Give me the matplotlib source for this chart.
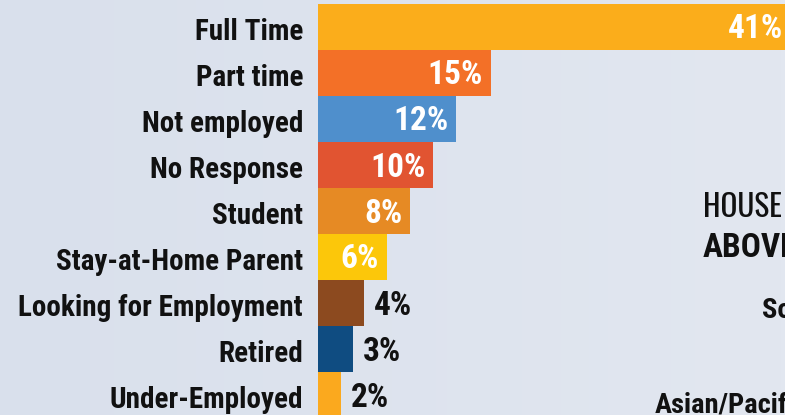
import matplotlib
matplotlib.use("Agg")
import matplotlib.pyplot as plt
import numpy as np

categories = ["Full Time", "Part time", "Not employed", "No Response", "Student",
              "Stay-at-Home Parent", "Looking for Employment", "Retired", "Under-Employed"]
values = [41, 15, 12, 10, 8, 6, 4, 3, 2]
value_labels = ["41%", "15%", "12%", "10%", "8%", "6%", "4%", "3%", "2%"]
colors = ["#FBAD1B", "#F37027", "#4F8FCC", "#E15431", "#E68A24",
          "#FCC70A", "#8C4A1F", "#0F4C81", "#FBA91E"]
inside = [True, True, True, True, True, True, False, False, False]

W, H = 785, 415
fig = plt.figure(figsize=(W / 100, H / 100), dpi=100)
fig.patch.set_facecolor("#DCE3EE")

# subtle background gradient
bg = fig.add_axes([0, 0, 1, 1], zorder=-10)
gx = np.linspace(0, 1, 200)
gy = np.linspace(0, 1, 100)
X, Y = np.meshgrid(gx, gy)
grad = 0.5 + 0.5 * X
bg.imshow(grad, extent=[0, 1, 0, 1], aspect="auto", origin="lower",
          cmap=matplotlib.colors.LinearSegmentedColormap.from_list("b", ["#D9E0EC", "#E2E7F0"]))
bg.set_axis_off()

FONT = ["Roboto Condensed", "DejaVu Sans"]
NARROW = ["Oswald", "Roboto Condensed", "DejaVu Sans"]
TXT = "#111111"

px_per_unit = 11.53
x0 = 318
top = 4
pitch = 46
n = len(categories)
ax_w = (W - x0) / W
ax_h = n * pitch / H
ax_b = (H - top - n * pitch) / H
ax = fig.add_axes([x0 / W, ax_b, ax_w, ax_h])
ax.set_facecolor("none")
ax.set_xlim(0, (W - x0) / px_per_unit)
ax.set_ylim(n - 0.5, -0.5)
y = np.arange(n)
ax.barh(y, values, height=1.0, color=colors, edgecolor="none")
for s in ax.spines.values():
    s.set_visible(False)
ax.set_xticks([])
ax.set_yticks([])

for i, cat in enumerate(categories):
    ax.annotate(cat, xy=(0, i), xytext=(-15, -12.5), textcoords="offset pixels",
                ha="right", va="baseline", fontsize=21, fontweight="bold",
                family=FONT, color=TXT, annotation_clip=False)

for i, (v, lab) in enumerate(zip(values, value_labels)):
    if inside[i]:
        ax.annotate(lab, xy=(v, i), xytext=(-8, -11.5), textcoords="offset pixels",
                    ha="right", va="baseline", color="white", fontsize=24,
                    fontweight="bold", family=FONT, annotation_clip=False)
    else:
        ax.annotate(lab, xy=(v, i), xytext=(10, -11.5), textcoords="offset pixels",
                    ha="left", va="baseline", color=TXT, fontsize=24,
                    fontweight="bold", family=FONT, annotation_clip=False)

# partially visible text from the surrounding infographic
fig.text(703 / W, 1 - 217 / H, "HOUSE", fontsize=22.5, fontweight="light", family=NARROW, color=TXT, va="baseline")
fig.text(703 / W, 1 - 257 / H, "ABOVE", fontsize=24, fontweight="bold", family=FONT, color=TXT, va="baseline")
fig.text(762 / W, 1 - 318 / H, "So", fontsize=20.5, fontweight="bold", family=FONT, color=TXT, va="baseline")
fig.text(655 / W, 1 - 412 / H, "Asian/Pacif", fontsize=20.5, fontweight="bold", family=FONT, color=TXT, va="baseline")

fig.savefig("out.png", dpi=100, facecolor=fig.get_facecolor())
